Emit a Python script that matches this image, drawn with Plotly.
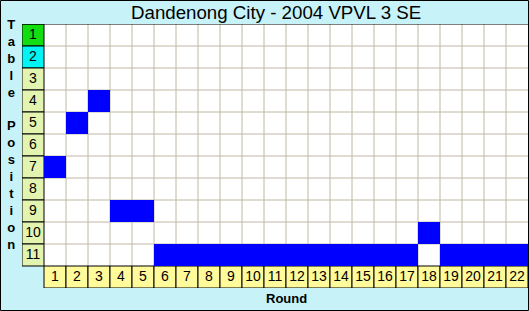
import plotly.graph_objects as go

title = "Dandenong City - 2004 VPVL 3 SE"
rounds = list(range(1, 23))
positions = [7, 5, 4, 9, 9, 11, 11, 11, 11, 11, 11, 11, 11, 11, 11, 11, 11, 10, 11, 11, 11, 11]
table_rows = list(range(1, 12))
row_colors = ["#11dd11", "#00f4f4"] + ["#e2f4b0"] * 9
round_color = "#fffa9a"
y_title = "Table Position"
x_title = "Round"

W, H = 529, 311
L, R, T, B = 22, 1, 24, 23
pw, ph = W - L - R, H - T - B

def px_x(p):
    return (p - L) / pw

def px_y(p):
    return (T + ph - p) / ph

n_r, n_c = len(table_rows), len(rounds)

# heatmap matrix for the occupied cells
z = [[None] * n_c for _ in range(n_r)]
for i, (rd, pos) in enumerate(zip(rounds, positions)):
    z[pos - 1][i] = 1

fig = go.Figure()
fig.add_trace(go.Heatmap(
    x=rounds, y=table_rows, z=z,
    colorscale=[[0, "#0000ff"], [1, "#0000ff"]],
    showscale=False, hoverinfo="skip", zmin=0, zmax=1,
))
fig.add_trace(go.Scatter(
    x=[0] * n_r, y=table_rows, mode="text", text=[str(r) for r in table_rows],
    textfont=dict(family="Liberation Sans, Arial", size=14, color="#000000"),
    hoverinfo="skip", showlegend=False,
))
fig.add_trace(go.Scatter(
    x=rounds, y=[n_r + 1] * n_c, mode="text", text=[str(r) for r in rounds],
    textfont=dict(family="Liberation Sans, Arial", size=14, color="#000000"),
    hoverinfo="skip", showlegend=False,
))

shapes = []
# white grid area
shapes.append(dict(type="rect", layer="below", x0=0.5, x1=n_c + 0.5, y0=0.5, y1=n_r + 0.5,
                   fillcolor="#ffffff", line=dict(width=0)))
grid_col = "#c0b8a4"
for c in range(1, n_c):
    shapes.append(dict(type="line", layer="below", x0=c + 0.5, x1=c + 0.5, y0=0.5, y1=n_r + 0.5,
                       line=dict(color=grid_col, width=1)))
for r in range(1, n_r):
    shapes.append(dict(type="line", layer="below", x0=0.5, x1=n_c + 0.5, y0=r + 0.5, y1=r + 0.5,
                       line=dict(color=grid_col, width=1)))
# row label boxes
for r, col in zip(table_rows, row_colors):
    shapes.append(dict(type="rect", layer="below", x0=-0.5, x1=0.5, y0=r - 0.5, y1=r + 0.5,
                       fillcolor=col, line=dict(color="#000000", width=1)))
# round label boxes
for c in rounds:
    shapes.append(dict(type="rect", layer="below", x0=c - 0.5, x1=c + 0.5, y0=n_r + 0.5, y1=n_r + 1.5,
                       fillcolor=round_color, line=dict(color="#000000", width=1)))
# top border of grid
shapes.append(dict(type="line", layer="above", x0=-0.5, x1=n_c + 0.5, y0=0.5, y1=0.5,
                   line=dict(color="#000000", width=1)))
# outer border of the picture
shapes.append(dict(type="rect", xref="paper", yref="paper", layer="above",
                   x0=px_x(0.5), x1=px_x(W - 0.5), y0=px_y(H - 0.5), y1=px_y(0.5),
                   line=dict(color="#000000", width=1)))

annotations = [
    dict(text=title, xref="paper", yref="paper", x=px_x(276), y=px_y(12.5),
         showarrow=False, xanchor="center", yanchor="middle",
         font=dict(family="Liberation Sans, Arial", size=18.7, color="#000000")),
    dict(text=x_title, xref="paper", yref="paper", x=px_x(286), y=px_y(298),
         showarrow=False, xanchor="center", yanchor="middle",
         font=dict(family="Liberation Sans, Arial", size=13, color="#000000"),
         ),
    dict(text="<br>".join(ch if ch != " " else " " for ch in y_title), xref="paper", yref="paper",
         x=px_x(11), y=px_y(134), showarrow=False, xanchor="center", yanchor="middle", align="center",
         font=dict(family="Liberation Sans, Arial", size=13, color="#000000")),
]
annotations[1]["text"] = "<b>" + x_title + "</b>"
annotations[2]["text"] = "<br>".join(("<b>" + ch + "</b>") if ch != " " else " " for ch in y_title)

fig.update_layout(
    width=W, height=H, margin=dict(l=L, r=R, t=T, b=B, pad=0),
    paper_bgcolor="#c6f2f8", plot_bgcolor="rgba(0,0,0,0)",
    xaxis=dict(range=[-0.5, n_c + 0.5], showgrid=False, zeroline=False, showticklabels=False,
               ticks="", fixedrange=True),
    yaxis=dict(range=[n_r + 1.5, 0.5], showgrid=False, zeroline=False, showticklabels=False,
               ticks="", fixedrange=True),
    shapes=shapes, annotations=annotations, showlegend=False,
)
fig.write_html("out.html")
